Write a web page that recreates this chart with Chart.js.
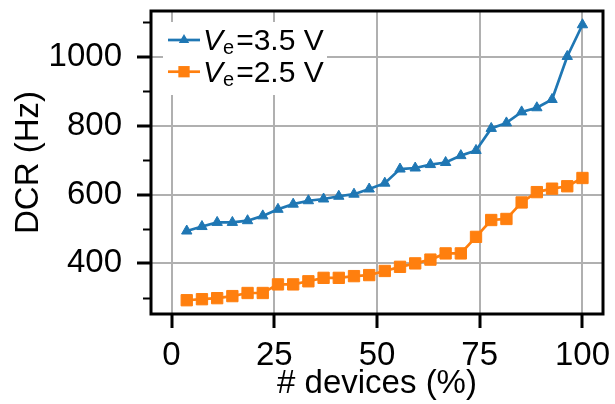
<!DOCTYPE html>
<html>
<head>
<meta charset="utf-8">
<script src="https://cdn.jsdelivr.net/npm/chart.js@4/dist/chart.umd.min.js"></script>
<style>
  html, body { margin: 0; padding: 0; background: #ffffff; }
  canvas { display: block; }
</style>
</head>
<body>
<canvas id="dcr" width="615" height="404"></canvas>
<script>
// Share of devices (cumulative %, sorted by dark count rate)
const devicesPct = [3.7, 7.4, 11.1, 14.8, 18.5, 22.2, 25.9, 29.6, 33.3, 37.0,
                    40.7, 44.4, 48.1, 51.9, 55.6, 59.3, 63.0, 66.7, 70.4, 74.1,
                    77.8, 81.5, 85.2, 88.9, 92.6, 96.3, 100.0];
// Dark count rate (Hz) at excess bias 3.5 V
const dcrVe35 = [494, 507, 519, 519, 524, 538, 557, 572, 582, 587,
                 595, 601, 616, 633, 674, 677, 687, 693, 713, 728,
                 792, 808, 840, 852, 876, 1001, 1093];
// Dark count rate (Hz) at excess bias 2.5 V
const dcrVe25 = [293, 296, 299, 305, 314, 314, 339, 339, 348, 358,
                 358, 363, 366, 378, 390, 400, 411, 429, 429, 477,
                 526, 529, 577, 607, 617, 624, 648];
const xTickValues = [0, 25, 50, 75, 100];
const yMajorTicks = [400, 600, 800, 1000];
const yMinorTicks = [300, 500, 700, 900, 1100];
const seriesNames = ['=3.5 V', '=2.5 V'];

const FONT = '"Liberation Sans", Arial, Helvetica, sans-serif';
const BLUE = '#1f77b4';
const ORANGE = '#ff7f0e';
const GRID = '#b0b0b0';

const toPoints = ys => ys.map((y, i) => ({ x: devicesPct[i], y }));
const isMajor = c => !!(c.tick && yMajorTicks.includes(c.tick.value));

// Frame, minor ticks and the legend with a subscripted symbol
const decorations = {
  id: 'decorations',
  afterDatasetsDraw(chart) {
    const { ctx, chartArea: a, scales } = chart;
    ctx.save();
    // minor ticks on the left axis
    ctx.strokeStyle = '#000';
    ctx.lineWidth = 2;
    yMinorTicks.forEach(v => {
      const py = Math.round(scales.y.getPixelForValue(v)) + 0.5;
      ctx.beginPath();
      ctx.moveTo(a.left - 8, py);
      ctx.lineTo(a.left, py);
      ctx.stroke();
    });
    // box around the plot
    ctx.lineWidth = 3;
    ctx.strokeRect(a.left, a.top, a.right - a.left, a.bottom - a.top);
    ctx.restore();
  },
  afterDraw(chart) {
    const { ctx } = chart;
    const ds = chart.data.datasets;
    ctx.save();
    ctx.fillStyle = '#ffffff';
    ctx.fillRect(163, 22, 164, 73);
    const rows = [40, 71.7];
    ds.forEach((d, i) => {
      const y = rows[i];
      ctx.strokeStyle = d.borderColor;
      ctx.lineWidth = d.borderWidth;
      ctx.beginPath();
      ctx.moveTo(168, y);
      ctx.lineTo(200, y);
      ctx.stroke();
      ctx.fillStyle = d.borderColor;
      ctx.beginPath();
      if (d.pointStyle === 'triangle') {
        const r = d.pointRadius;
        ctx.moveTo(184, y - r);
        ctx.lineTo(184 + r * 0.866, y + r / 2);
        ctx.lineTo(184 - r * 0.866, y + r / 2);
        ctx.closePath();
      } else {
        const s = d.pointRadius * Math.SQRT1_2;
        ctx.rect(184 - s, y - s, 2 * s, 2 * s);
      }
      ctx.fill();
      // label: italic V, subscript e, then the value
      ctx.fillStyle = '#000';
      ctx.textBaseline = 'alphabetic';
      ctx.textAlign = 'left';
      let x = 203;
      ctx.font = 'italic 30px ' + FONT;
      ctx.fillText('V', x, y + 10);
      x += ctx.measureText('V').width;
      ctx.font = '20px ' + FONT;
      ctx.fillText('e', x, y + 14);
      x += ctx.measureText('e').width + 2;
      ctx.font = '30px ' + FONT;
      ctx.fillText(seriesNames[i], x, y + 10);
    });
    ctx.restore();
  }
};

new Chart(document.getElementById('dcr'), {
  type: 'line',
  data: {
    datasets: [
      {
        label: 'Ve=3.5 V',
        data: toPoints(dcrVe35),
        borderColor: BLUE,
        backgroundColor: BLUE,
        borderWidth: 2.7,
        pointStyle: 'triangle',
        pointRadius: 6,
        pointBorderWidth: 1,
        tension: 0
      },
      {
        label: 'Ve=2.5 V',
        data: toPoints(dcrVe25),
        borderColor: ORANGE,
        backgroundColor: ORANGE,
        borderWidth: 2.7,
        pointStyle: 'rect',
        pointRadius: 8,
        pointBorderWidth: 1,
        tension: 0
      }
    ]
  },
  options: {
    responsive: false,
    animation: false,
    devicePixelRatio: 1,
    layout: { padding: { left: 0, right: 12, top: 11, bottom: 0 } },
    plugins: { legend: { display: false }, tooltip: { enabled: false } },
    scales: {
      x: {
        type: 'linear',
        min: -5,
        max: 105,
        afterBuildTicks: s => { s.ticks = xTickValues.map(v => ({ value: v })); },
        afterFit: s => { s.height = 90; s.paddingLeft = 0; s.paddingRight = 0; },
        border: { display: false },
        grid: {
          color: GRID,
          lineWidth: 2,
          drawTicks: true,
          tickLength: 14,
          tickColor: '#000',
          tickWidth: 3
        },
        ticks: {
          color: '#000',
          font: { family: FONT, size: 33 },
          padding: 8,
          maxRotation: 0,
          autoSkip: false
        },
        title: {
          display: true,
          text: '# devices (%)',
          color: '#000',
          font: { family: FONT, size: 33, lineHeight: 1 },
          padding: { top: 0, bottom: 4 }
        }
      },
      y: {
        type: 'linear',
        min: 253,
        max: 1133,
        afterBuildTicks: s => {
          s.ticks = [...yMajorTicks, ...yMinorTicks].sort((p, q) => p - q).map(v => ({ value: v }));
        },
        afterFit: s => { s.width = 151; s.paddingTop = 0; s.paddingBottom = 0; },
        border: { display: false },
        grid: {
          color: c => isMajor(c) ? GRID : 'rgba(0,0,0,0)',
          lineWidth: 2,
          drawTicks: true,
          tickLength: 14,
          tickColor: c => isMajor(c) ? '#000' : 'rgba(0,0,0,0)',
          tickWidth: 3
        },
        ticks: {
          color: '#000',
          font: { family: FONT, size: 33 },
          padding: 15,
          autoSkip: false,
          callback: v => yMajorTicks.includes(v) ? String(v) : ''
        },
        title: {
          display: true,
          text: 'DCR (Hz)',
          color: '#000',
          font: { family: FONT, size: 33, lineHeight: 1 },
          padding: { top: 12, bottom: 0 }
        }
      }
    }
  },
  plugins: [decorations]
});
</script>
</body>
</html>
